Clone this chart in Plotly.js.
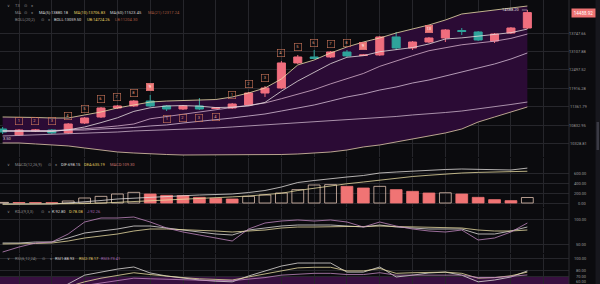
<!DOCTYPE html>
<html><head><meta charset="utf-8">
<script src="https://cdn.plot.ly/plotly-3.0.1.min.js"></script>
<style>html,body{margin:0;padding:0;background:#0b0b0e;overflow:hidden}#chart{width:600px;height:284px}</style>
</head><body><div id="chart"></div>
<script>
// ---------- data ----------
const idx = [-1,0,1,2,3,4,5,6,7,8,9,10,11,12,13,14,15,16,17,18,19,20,21,22,23,24,25,26,27,28,29,30,31];
const openP  = [10735,10570,10680,10707,10625,10902,11072,11332,11391,11537,11391,11302,11391,11317,11332,11420,11778,11931,12726,12924,12924,13091,12974,12991,13608,13227,13432,13572,13837,13784,13467,13748,13926];
const closeP = [10652,10707,10707,10625,10874,11043,11332,11391,11537,11391,11302,11391,11302,11332,11449,11778,11931,12726,12924,12874,13091,12958,12991,13608,13227,13432,13572,13855,13801,13502,13713,13926,14488.92];
const highP  = [10791,10735,10735,10735,10902,11072,11361,11420,11567,11718,11420,11420,11627,11361,11479,11809,11993,12791,12991,13158,13124,13158,13024,13643,13784,13467,13608,13890,13926,13819,13748,13962,14588.20];
const lowP   = [10598,10543,10652,10598,10598,10874,11043,11302,11361,11361,11244,11273,11273,11302,11302,11391,11658,11900,12693,12857,12891,12924,12958,12958,13158,13158,13398,13432,13678,13467,13398,13713,13890];

const bollUB  = [11072,11072,11058,11043,11043,11130,11216,11332,11420,11507,11537,11552,11567,11582,11658,11778,11931,12211,12661,12824,13058,13261,13432,13572,13748,13890,14035,14216,14438,14512,14587,14662,14737];
const bollLB  = [10355,10355,10329,10302,10276,10222,10169,10117,10091,10065,10052,10039,10039,10039,10039,10039,10039,10052,10065,10091,10117,10169,10249,10302,10381,10461,10543,10625,10735,10930,11072,11216,11361];
const bollMid = [10680,10680,10680,10693,10707,10707,10735,10749,10777,10819,10847,10902,10944,10986,11043,11101,11158,11244,11332,11420,11537,11658,11749,11869,11962,12086,12179,12306,12433,12562,12693,12857,13058];
const ma5  = [10680,10680,10680,10666,10713,10791,10913,11049,11233,11337,11391,11402,11385,11344,11355,11391,11496,11833,12148,12436,12703,12914,12967,13101,13172,13241,13364,13537,13576,13632,13688,13759,13887];
const ma10 = [10680,10680,10680,10680,10707,10735,10777,10819,10874,11021,11087,11156,11216,11288,11347,11420,11479,11606,11739,11881,12058,12214,12386,12616,12798,12967,13134,13247,13337,13399,13461,13558,13709];
const ma60 = [10543,10556,10570,10584,10598,10625,10639,10652,10680,10693,10707,10735,10749,10763,10791,10819,10847,10874,10916,10944,10972,11000,11029,11058,11087,11130,11158,11201,11244,11302,11361,11435,11507];

const macdDif  = [-20,-15,-15,-20,0,20,50,80,100,120,130,145,160,170,180,210,250,320,410,450,490,520,550,600,620,640,650,670,680,670,660,660,698];
const macdDea  = [-25,-25,-22,-22,-18,-12,-2,12,30,48,64,80,95,110,122,140,160,195,250,300,345,385,420,460,500,530,555,580,600,612,620,625,635];
const macdHist = [12,10,8,6,40,100,133,180,213,180,153,147,113,93,80,133,160,200,267,360,367,333,300,333,267,233,200,205,180,113,67,47,109.3];

const kdjK = [52,52,54,54,62,72,76,80,86,86,82,78,74,70,68,78,82,86,88,88,88,86,84,88,84,82,80,80,80,70,70,76,84];
const kdjD = [50,50,51,52,56,62,66,70,76,80,80,79,78,76,74,76,78,82,84,84,85,85,85,86,85,84,83,82,82,78,76,76,78];
const kdjJ = [34,44,52,54,70,94,102,102,104,94,82,74,68,62,56,80,92,96,98,96,98,94,84,94,86,80,76,74,78,58,62,74,92];

const rsi1 = [40,45,48,44,58,73,78,83,86.5,76.6,71.6,68,65,63,62,71.6,80,88,93,93,93,78,78,86.5,70,73,76.6,78,73,62,65,70,80];
const rsi2 = [42,44,46,45,54,62,68,73,77,74,71,69,67,66,65,70,75,81,85,86,86,80,80,84,76,77,77,78,76,68,69,72,78];
const rsi3 = [46,47,48,48,52,56,61,65,68,67,66,65,64,64,64,66,69,73,75,76,76,74,74,77,73,73,74,74,73,69,69,71,73.4];

const priceTicks = [13747.66,13107.88,12497.52,11916.28,11361.79,10832.95,10328.81];
const macdTicks = [600,400,200,0];
const kdjTicks = [100,50];
const rsiTicks = [100,80,70,60];
const gridIdx = [0,2,4,6,8,10,12,14,16,18,20,22,24,26,28,30,32];

const tdIdx    = [0,1,2,3,4,5,6,7,8, 9,10,11,12, 13,14,15,16,17,18,19,20,21, 25];
const tdText   = ['1','2','3','4','5','6','7','8','9','1','2','3','4','1','2','3','4','5','6','7','8','9','13'];
const tdBelow  = [0,0,0,0,0,0,0,0,0, 1,1,1,1, 0,0,0,0,0,0,0,0,0, 0];
const tdFilled = [0,0,0,0,0,0,0,0,1, 0,0,0,0, 0,0,0,0,0,0,0,0,1, 1];

const lastPrice = 14488.92;
const highMark = 14588.20;
const headerMain = ['MA(5):13880.18','MA(10):13706.83','MA(60):11523.45','MA(21):12317.24'];
const headerBoll = ['BOLL:13059.50','UB:14724.26','LB:11204.30'];
const headerMacd = ['DIF:698.15','DEA:635.19','MACD:109.30'];
const headerKdj  = ['K:92.80','D:78.08','J:92.26'];
const headerRsi  = ['RSI1:88.93','RSI2:78.17','RSI3:73.41'];

// ---------- layout helpers ----------
const W = 600, H = 284;
const PX = 569 / W;          // right edge of plots
const py = v => 1 - v / H;   // pixel row -> paper
const FONT = 'Roboto, "Noto Sans", sans-serif';
const GRID = '#26262b';
const PINK = '#f06e7e', TEAL = '#2fa39b', WHITE = '#dedad8', YEL = '#e2cf62', PURP = '#bf86be', BROWN = '#a85a40';
const LW = 0.8;

const xBase = {range:[-1.16,33.54], domain:[0,PX], tickmode:'array', tickvals:gridIdx, showticklabels:false,
  gridcolor:GRID, gridwidth:1, zeroline:false, showline:false, ticks:'', fixedrange:true};
const yBase = {showticklabels:false, gridcolor:GRID, gridwidth:1, zeroline:false, showline:false, ticks:'', tickmode:'array', fixedrange:true};

const logRange = [3.99945, 4.17516];

const traces = [];
traces.push({x:idx, y:bollLB, type:'scatter', mode:'lines', line:{width:0, color:'rgba(0,0,0,0)'}, xaxis:'x', yaxis:'y', hoverinfo:'skip'});
traces.push({x:idx, y:bollUB, type:'scatter', mode:'lines', line:{width:0, color:'rgba(0,0,0,0)'}, fill:'tonexty', fillcolor:'#2b0b35', xaxis:'x', yaxis:'y', hoverinfo:'skip'});
traces.push({type:'candlestick', x:idx, open:openP, high:highP, low:lowP, close:closeP, xaxis:'x', yaxis:'y5',
  increasing:{line:{color:PINK, width:1}, fillcolor:PINK}, decreasing:{line:{color:TEAL, width:1}, fillcolor:TEAL},
  whiskerwidth:0, hoverinfo:'skip'});
const mainLines = [[ma60,'#c9b2c8'],[bollMid,'#d6bed6'],[ma10,'#d4b0ca'],[ma5,'#e6dede'],[bollLB,'#e2cbab'],[bollUB,'#ecdeaa']];
mainLines.forEach(([arr,c]) => traces.push({x:idx, y:arr, type:'scatter', mode:'lines', line:{width:LW, color:c}, xaxis:'x', yaxis:'y5', hoverinfo:'skip'}));

const histFill = macdHist.map((v,i) => (i > 0 && v < macdHist[i-1]) ? '#f07474' : 'rgba(0,0,0,0)');
const histLine = macdHist.map((v,i) => (i > 0 && v < macdHist[i-1]) ? '#f07474' : '#e0c2b0');
traces.push({type:'bar', x:idx, y:macdHist, width:0.72, marker:{color:histFill, line:{color:histLine, width:0.8}}, xaxis:'x2', yaxis:'y2', hoverinfo:'skip'});
traces.push({x:idx, y:macdDif, type:'scatter', mode:'lines', line:{width:LW, color:WHITE}, xaxis:'x2', yaxis:'y2'});
traces.push({x:idx, y:macdDea, type:'scatter', mode:'lines', line:{width:LW, color:'#e6d9a0'}, xaxis:'x2', yaxis:'y2'});
[[kdjK,WHITE],[kdjD,'#e6d9a0'],[kdjJ,PURP]].forEach(([a,c]) => traces.push({x:idx, y:a, type:'scatter', mode:'lines', line:{width:LW, color:c}, xaxis:'x3', yaxis:'y3'}));
[[rsi1,WHITE],[rsi2,'#e6d9a0'],[rsi3,PURP]].forEach(([a,c]) => traces.push({x:idx, y:a, type:'scatter', mode:'lines', line:{width:LW, color:c}, xaxis:'x4', yaxis:'y4'}));

// ---------- annotations ----------
const ann = [];
const txt = (text, xpx, ypx, color, size) => ann.push({text, xref:'paper', yref:'paper', x:xpx/W, y:py(ypx), xanchor:'left', yanchor:'middle', showarrow:false, font:{family:FONT, size:size||4, color}});
const GRAY = '#8c8c8c';
txt('∨', 4.5, 6, GRAY); txt('T3', 12.5, 6, GRAY); txt('⊙', 21.5, 6, GRAY); txt('×', 29, 6, GRAY);
txt('MA', 12.5, 12.7, GRAY); txt('⊙', 22, 12.7, GRAY); txt('×', 29, 12.7, GRAY);
[[37,'#dcdcdc'],[72,YEL],[108,'#d2d2d2'],[146,BROWN]].forEach(([x,c],k) => txt(headerMain[k], x, 12.7, c));
txt('BOLL(20,2)', 12.5, 19, GRAY); txt('⊙', 39, 19, GRAY); txt('×', 46, 19, GRAY);
[[52,'#dcdcdc'],[85,YEL],[113,BROWN]].forEach(([x,c],k) => txt(headerBoll[k], x, 19, c));
txt('∨', 4.5, 164.3, GRAY); txt('MACD(12,26,9)', 13, 164.3, GRAY); txt('⊙', 46, 164.3, GRAY); txt('×', 53, 164.3, GRAY);
[[59,'#dcdcdc'],[82,YEL],[108,'#c8726c']].forEach(([x,c],k) => txt(headerMacd[k], x, 164.3, c));
txt('∨', 4.5, 211.5, GRAY); txt('KDJ(9,3,3)', 13, 211.5, GRAY); txt('⊙', 38.5, 211.5, GRAY); txt('×', 46, 211.5, GRAY);
[[50,'#dcdcdc'],[67,YEL],[85,'#a766b5']].forEach(([x,c],k) => txt(headerKdj[k], x, 211.5, c));
txt('∨', 4.5, 258.3, GRAY); txt('RSI(6,12,24)', 13, 258.3, GRAY); txt('⊙', 40, 258.3, GRAY); txt('×', 47.5, 258.3, GRAY);
[[53,'#dcdcdc'],[77,YEL],[99,'#a766b5']].forEach(([x,c],k) => txt(headerRsi[k], x, 258.3, c));
txt('3.50', 0.5, 138.5, '#d8d8d8');

// right axis labels (kept fully inside the picture)
const axLab = (v, yref, yval, shift) => ann.push({text:v.toFixed(2), xref:'paper', x:589/W, xanchor:'right', yref, y:yval, yanchor:'middle', yshift:shift||0, showarrow:false, font:{family:FONT, size:4, color:'#9a9a9a'}});
priceTicks.forEach(v => axLab(v, 'y', Math.log10(v)));
macdTicks.forEach(v => axLab(v, 'y2', v));
kdjTicks.forEach(v => axLab(v, 'y3', v));
rsiTicks.forEach(v => axLab(v, 'y4', v, v === 60 ? 1.6 : 0));

ann.push({text:lastPrice.toFixed(2), xref:'paper', x:570.5/W, xanchor:'left', yref:'y', y:Math.log10(lastPrice), yanchor:'middle',
  showarrow:false, bgcolor:'#ee7272', font:{family:FONT, size:4.5, color:'#ffffff'}, width:23, height:8, borderpad:0});
ann.push({text:highMark.toFixed(2), xref:'x', x:idx[idx.length-1], yref:'y', y:Math.log10(highMark), showarrow:true, arrowhead:0,
  arrowwidth:0.6, arrowcolor:'#cfcfcf', ax:-16, ay:0, font:{family:FONT, size:4, color:'#dedede'}});

tdIdx.forEach((k, j) => {
  const p = idx.indexOf(k);
  const below = tdBelow[j] === 1, filled = tdFilled[j] === 1;
  const v = below ? lowP[p] : highP[p];
  ann.push({text:tdText[j], xref:'x', x:k, yref:'y', y:Math.log10(v), yshift: below ? -7.5 : 7.5, showarrow:false,
    font:{family:FONT, size:4, color: filled ? '#ffffff' : '#e6a07e'},
    bgcolor: filled ? '#ef7b7b' : 'rgba(0,0,0,0)', bordercolor: filled ? '#ef7b7b' : '#c9765a', borderwidth:0.6, borderpad:0.5,
    width:5.5, height:5.5});
});

const shapes = [
  {type:'rect', xref:'paper', x0:0, x1:PX, yref:'y4', y0:30, y1:70, fillcolor:'#37103f', line:{width:0}, layer:'below'},
  {type:'line', xref:'paper', x0:PX, x1:PX, yref:'paper', y0:0, y1:1, line:{color:'#2c2c30', width:1}},
  {type:'rect', xref:'paper', x0:595.5/W, x1:1, yref:'paper', y0:0, y1:1, fillcolor:'#17171d', line:{width:0}},
  {type:'rect', xref:'paper', x0:596.5/W, x1:599/W, yref:'paper', y0:py(150), y1:py(122), fillcolor:'#3a3a44', line:{width:0}}
];

const layout = {
  width:W, height:H, margin:{l:0, r:0, t:0, b:0}, paper_bgcolor:'#0b0b0e', plot_bgcolor:'#0b0b0e', showlegend:false,
  font:{family:FONT, color:'#9a9a9a', size:4}, barmode:'overlay',
  xaxis: Object.assign({}, xBase, {anchor:'y', rangeslider:{visible:false}}),
  xaxis2: Object.assign({}, xBase, {anchor:'y2'}),
  xaxis3: Object.assign({}, xBase, {anchor:'y3'}),
  xaxis4: Object.assign({}, xBase, {anchor:'y4'}),
  yaxis: Object.assign({}, yBase, {domain:[py(157),1], type:'log', range:logRange, tickvals:priceTicks, anchor:'x'}),
  yaxis5: {overlaying:'y', type:'log', range:logRange, showgrid:false, showticklabels:false, zeroline:false, ticks:'', anchor:'x', fixedrange:true},
  yaxis2: Object.assign({}, yBase, {domain:[py(207),py(158)], range:[-80,900], tickvals:macdTicks, anchor:'x2'}),
  yaxis3: Object.assign({}, yBase, {domain:[py(253),py(208)], range:[32,122], tickvals:kdjTicks, anchor:'x3'}),
  yaxis4: Object.assign({}, yBase, {domain:[0,py(254)], range:[58.4,107.9], tickvals:rsiTicks, anchor:'x4'}),
  annotations: ann, shapes: shapes
};

Plotly.newPlot('chart', traces, layout, {staticPlot:true, displayModeBar:false});
</script>
</body></html>
